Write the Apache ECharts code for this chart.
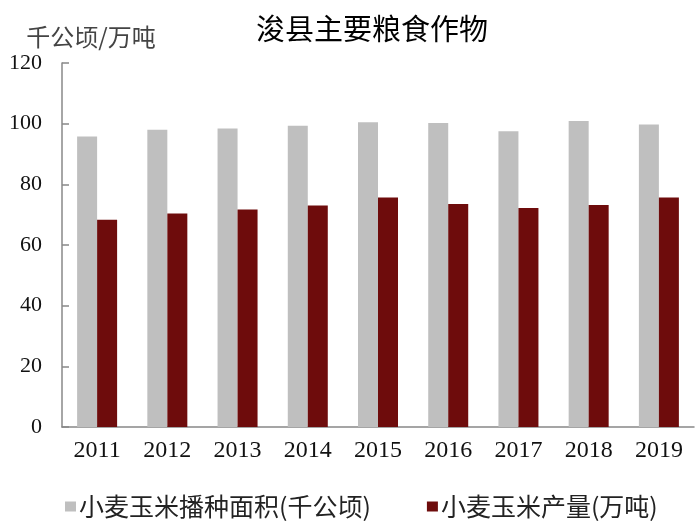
<!DOCTYPE html>
<html>
<head>
<meta charset="utf-8">
<script src="https://cdn.jsdelivr.net/npm/echarts@6/dist/echarts.min.js"></script>
<style>html,body{margin:0;padding:0;background:#fff}#c{width:700px;height:529px}</style>
</head>
<body>
<div id="c"></div>
<script>
var years = ['2011','2012','2013','2014','2015','2016','2017','2018','2019'];
var areaName = '小麦玉米播种面积(千公顷)';
var outputName = '小麦玉米产量(万吨)';
var areaValues = [95.8, 98.0, 98.4, 99.3, 100.5, 100.2, 97.5, 100.9, 99.7];
var outputValues = [68.3, 70.4, 71.7, 73.0, 75.7, 73.5, 72.2, 73.2, 75.7];
var yTicks = [0, 20, 40, 60, 80, 100, 120];

var chart = echarts.init(document.getElementById('c'), null, {renderer: 'canvas'});
var cjk = '"Noto Sans CJK SC", sans-serif';
var serif = '"Liberation Serif", "DejaVu Serif", serif';
chart.setOption({
  animation: false,
  backgroundColor: '#fff',
  title: {
    text: '浚县主要粮食作物',
    left: 367, top: 9, textAlign: 'center',
    textStyle: {fontFamily: cjk, fontSize: 29, fontWeight: 'normal', color: '#000'}
  },
  legend: {
    left: 60, top: 489,
    itemWidth: 11, itemHeight: 10, itemGap: 56,
    icon: 'rect',
    textStyle: {fontFamily: cjk, fontSize: 25, color: '#222', padding: [0,0,0,-2]},
    data: [areaName, outputName]
  },
  grid: {left: 62, right: 6, top: 63, bottom: 102, containLabel: false},
  xAxis: {
    type: 'category',
    data: years,
    axisLine: {lineStyle: {color: '#888', width: 1.5}},
    axisTick: {inside: true, length: 5, lineStyle: {color: '#888', width: 1.5}},
    axisLabel: {fontFamily: serif, fontSize: 24, color: '#111', margin: 12}
  },
  yAxis: {
    type: 'value',
    min: yTicks[0], max: yTicks[yTicks.length-1], interval: yTicks[1]-yTicks[0],
    name: '千公顷/万吨',
    nameLocation: 'end',
    nameGap: 14,
    nameTextStyle: {fontFamily: cjk, fontSize: 24, color: '#444', align: 'center', padding: [0,0,0,58]},
    axisLine: {show: true, lineStyle: {color: '#888', width: 1.5}},
    axisTick: {show: true, inside: true, length: 7, lineStyle: {color: '#888', width: 1.5}},
    splitLine: {show: false},
    axisLabel: {fontFamily: serif, fontSize: 22, color: '#111', margin: 20}
  },
  series: [
    {name: areaName, type: 'bar', data: areaValues, barWidth: 20, barGap: '0%',
     itemStyle: {color: '#BFBFBF'}},
    {name: outputName, type: 'bar', data: outputValues, barWidth: 20,
     itemStyle: {color: '#6E0C0C'}}
  ]
});
</script>
</body>
</html>
